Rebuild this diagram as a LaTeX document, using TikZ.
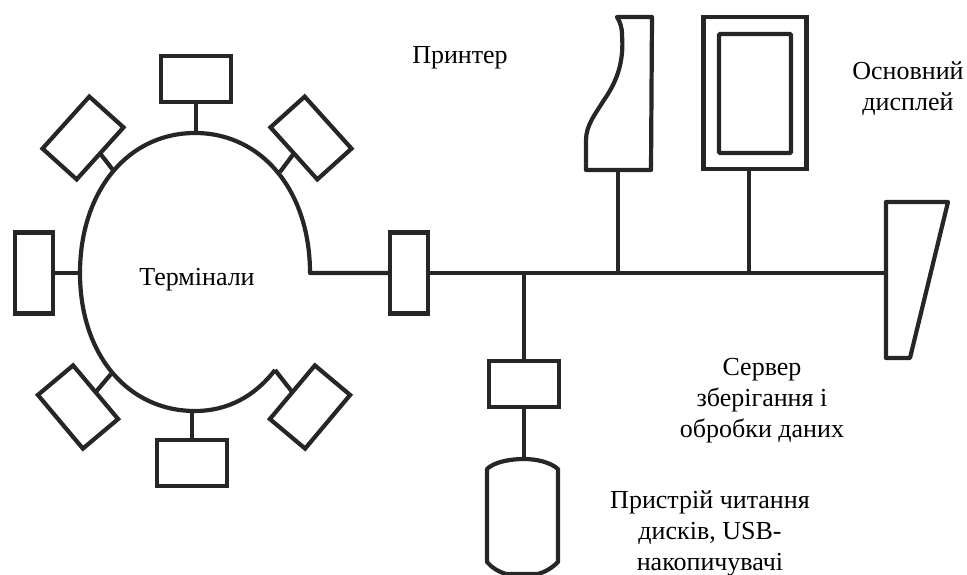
\documentclass[tikz,border=0pt]{standalone}
\usepackage{fontspec}
\setmainfont{Liberation Serif}
\usetikzlibrary{calc}
\tikzset{
  wire/.style={line width=4.2pt,line join=round,black!85},
  term/.style={draw=black!85,line width=4.2pt,rectangle,outer sep=0pt,inner sep=0pt,minimum width=70pt,minimum height=46pt},
  upright/.style={term,minimum width=38pt,minimum height=81pt},
  lbl/.style={align=center,inner sep=0pt,font=\fontsize{26}{31}\selectfont},
}
\begin{document}
\begin{tikzpicture}[x=1pt,y=-1pt]
  \useasboundingbox (0,0) rectangle (967,575);
  \node[term] (termtop) at (196,79) {};
  \node[term,rotate=48] (termtl) at (83,138) {};
  \node[term,rotate=-48] (termtr) at (311,138) {};
  \node[upright] (termleft) at (34,273) {};
  \node[term,rotate=-50] (termbl) at (78,407) {};
  \node[term] (termbottom) at (192,463) {};
  \node[term,rotate=50] (termbr) at (310,407) {};
  \node[upright] (hub) at (409,273) {};
  \node[term] (server) at (524,384) {};
  \coordinate (ringtop) at (196,133);
  \coordinate (ringtl) at (113,170);
  \coordinate (ringtr) at (280,172);
  \coordinate (ringleft) at (80,273);
  \coordinate (ringbl) at (111,374);
  \coordinate (ringbottom) at (192,411);
  \coordinate (ringbr) at (275,370);
  \coordinate (ringright) at (310,273);
  \draw[wire] (hub.west) -- (ringright)
    .. controls (310,191) and (262,133) .. (195,133)
    .. controls (128,133) and (80,191) .. (80,273)
    .. controls (80,355) and (128,411) .. (195,411)
    .. controls (228,411) and (255,396) .. (ringbr);
  \draw[wire] (termtop) -- (ringtop);
  \draw[wire] (termtl.south) -- (ringtl);
  \draw[wire] (termtr.south) -- (ringtr);
  \draw[wire] (termleft.east) -- (ringleft);
  \draw[wire] (termbl.north) -- (ringbl);
  \draw[wire] (termbottom.north) -- (ringbottom);
  \draw[wire] (termbr.north) -- (ringbr);
  \coordinate (printerfoot) at (618,170);
  \coordinate (displayfoot) at (749,170);
  \coordinate (mirrorfoot) at (885,273);
  \coordinate (disktop) at (524,459);
  \coordinate (tapprinter) at (618,273);
  \coordinate (tapdisplay) at (749,273);
  \coordinate (tapserver) at (524,273);
  \draw[wire] (hub.east) -- (mirrorfoot);
  \draw[wire] (tapprinter) -- (printerfoot);
  \draw[wire] (tapdisplay) -- (displayfoot);
  \draw[wire] (tapserver) -- (server.north);
  \draw[wire] (server.south) -- (disktop);
  \draw[wire] (617,17) -- (652,17) -- (651,170) -- (586,170) -- (586,140)
    .. controls (586,125) and (596,113) .. (604,100)
    .. controls (618,80) and (624,60) .. (622,35)
    .. controls (622,27) and (620,22) .. (617,17) -- cycle;
  \node[term,minimum width=103pt,minimum height=152pt] (display) at (755,93) {};
  \node[term,rounded corners=1pt,minimum width=72pt,minimum height=119pt] (screen) at (755,93.5) {};
  \draw[wire] (886,202) -- (948,202) -- (910,358) -- (886,358) -- cycle;
  \draw[wire] (disktop) .. controls (536,459) and (550,462) .. (558,469) -- (558,562)
    .. controls (552,568) and (545,572) .. (538,574) -- (506,574)
    .. controls (499,572) and (492,568) .. (487,562) -- (487,469)
    .. controls (494,462) and (510,459) .. (disktop) -- cycle;
  \node[lbl] (printerlabel) at (460,58) {Принтер};
  \node[lbl] (displaylabel) at (908,89) {Основний\\дисплей};
  \node[lbl] (termlabel) at (197,280) {Термінали};
  \node[lbl] (serverlabel) at (762,401) {Сервер\\зберігання і\\обробки даних};
  \node[lbl] (drivelabel) at (710,533) {Пристрій читання\\дисків, USB-\\накопичувачі};
\end{tikzpicture}
\end{document}
